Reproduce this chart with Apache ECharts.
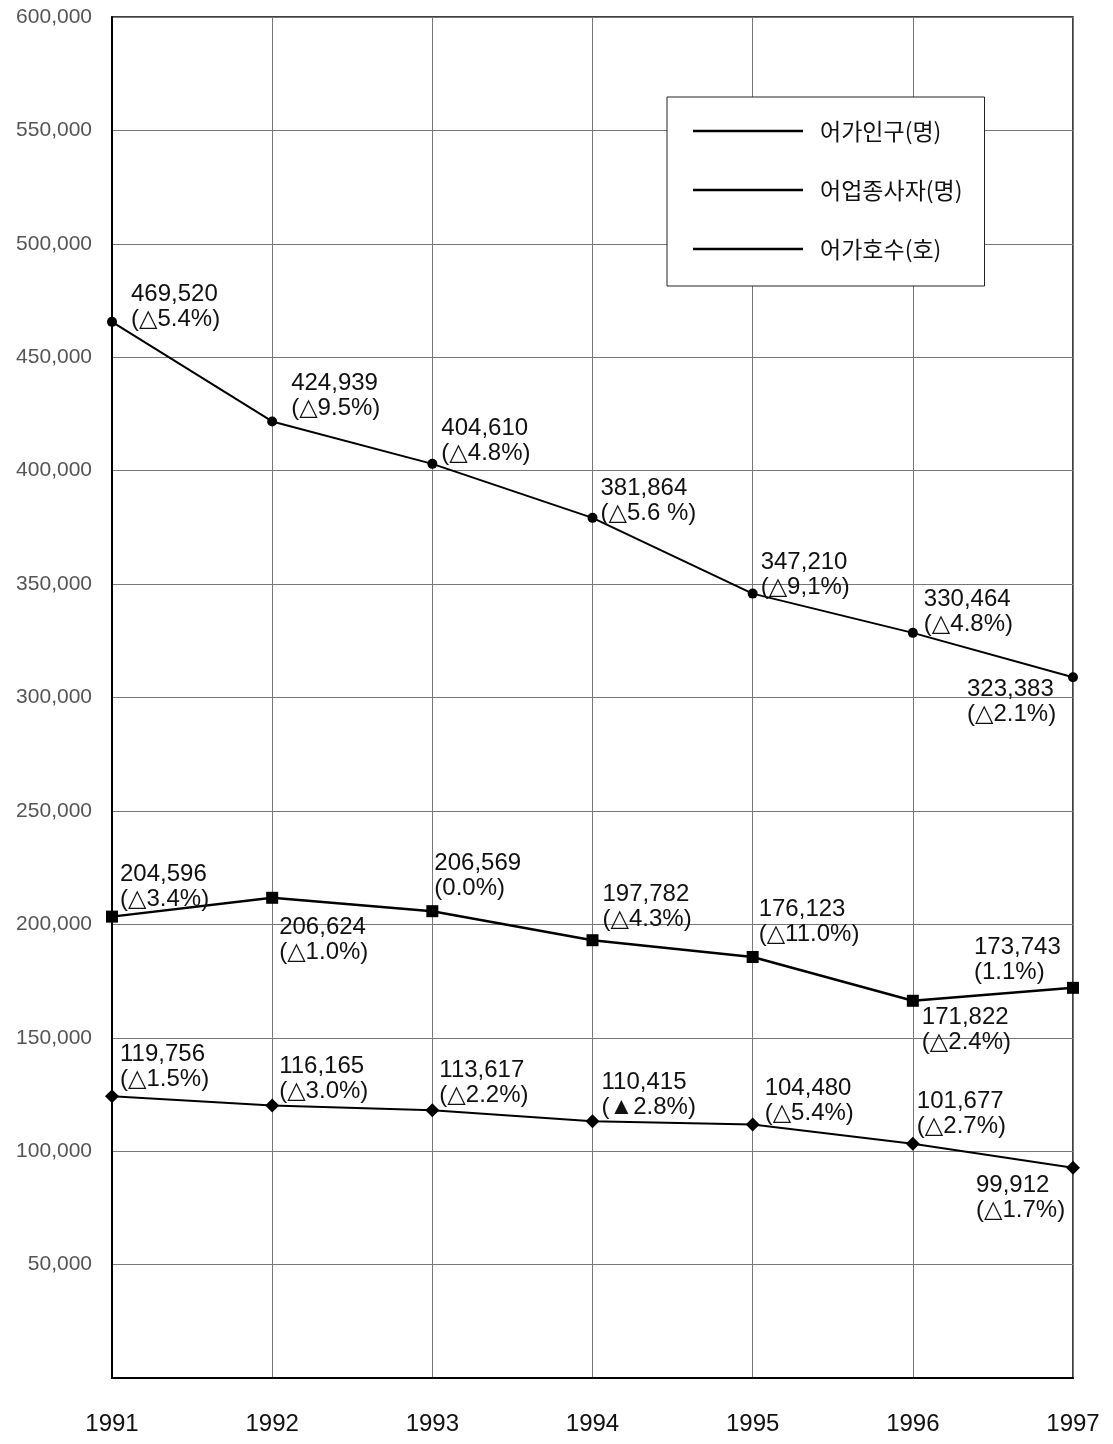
<!DOCTYPE html>
<html>
<head>
<meta charset="utf-8">
<script src="https://cdn.jsdelivr.net/npm/echarts@6/dist/echarts.min.js"></script>
<style>
  html, body { margin: 0; padding: 0; background: #fff; }
  #chart { width: 1113px; height: 1444px; }
</style>
</head>
<body>
<div id="chart"></div>
<script>
  // data
  const years = ['1991', '1992', '1993', '1994', '1995', '1996', '1997'];

  const population = [465600, 421700, 403000, 379200, 345800, 328500, 308900];
  const populationText = ['469,520', '424,939', '404,610', '381,864', '347,210', '330,464', '323,383'];
  const populationChange = ['(△5.4%)', '(△9.5%)', '(△4.8%)', '(△5.6 %)', '(△9,1%)', '(△4.8%)', '(△2.1%)'];

  const workers = [203400, 211700, 205800, 193000, 185600, 166300, 172000];
  const workersText = ['204,596', '206,624', '206,569', '197,782', '176,123', '171,822', '173,743'];
  const workersChange = ['(△3.4%)', '(△1.0%)', '(0.0%)', '(△4.3%)', '(△11.0%)', '(△2.4%)', '(1.1%)'];

  const households = [124200, 120100, 118000, 113200, 111800, 103300, 92700];
  const householdsText = ['119,756', '116,165', '113,617', '110,415', '104,480', '101,677', '99,912'];
  const householdsChange = ['(△1.5%)', '(△3.0%)', '(△2.2%)', '(▲2.8%)', '(△5.4%)', '(△2.7%)', '(△1.7%)'];

  const seriesNames = ['어가인구(명)', '어업종사자(명)', '어가호수(호)'];

  // label placement next to each point: [dx, dy] from the point to the text block's left-middle
  const popLayout = [[19, -15], [19, -26], [9, -23], [8, -17], [8, -19], [11, -21], [-106, 25]];
  const wrkLayout = [[8, -30], [7, 42], [2, -35], [10, -33], [6, -35], [9, 29], [-99, -28]];
  const hhLayout = [[8, -29], [7, -27], [7, -27], [9, -26], [12, -24], [4, -30], [-97, 30]];

  const labelFont = '"Liberation Sans", Arial, "DejaVu Sans", sans-serif';

  function points(values, texts, changes, layout) {
    return values.map((v, i) => ({
      value: v,
      label: {
        show: true,
        position: 'inside',
        align: 'left',
        verticalAlign: 'middle',
        offset: layout[i],
        formatter: texts[i] + '\n' + changes[i],
        fontFamily: labelFont,
        fontSize: 24,
        lineHeight: 25,
        color: '#111'
      }
    }));
  }

  const chart = echarts.init(document.getElementById('chart'));
  chart.setOption({
    backgroundColor: '#fff',
    animation: false,
    color: ['#000', '#000', '#000'],
    grid: {
      left: 112, right: 40, top: 17, bottom: 66,
      show: true, borderColor: '#000', borderWidth: 1.5
    },
    legend: {
      orient: 'vertical',
      left: 667, top: 97,
      data: seriesNames,
      icon: 'rect',
      itemWidth: 110, itemHeight: 2.5,
      itemGap: 35,
      backgroundColor: '#fff',
      borderColor: '#222', borderWidth: 1,
      padding: [22, 22, 25, 26],
      textStyle: {
        fontFamily: '"Noto Sans CJK KR", sans-serif',
        fontSize: 23, lineHeight: 24, color: '#111',
        padding: [0, 0, 0, 12]
      }
    },
    xAxis: {
      type: 'category',
      data: years,
      boundaryGap: false,
      axisLine: { lineStyle: { color: '#000', width: 2 } },
      axisTick: { show: false },
      axisLabel: { margin: 34, fontFamily: labelFont, fontSize: 24, color: '#111' },
      splitLine: { show: true, lineStyle: { color: '#777', width: 1 } }
    },
    yAxis: {
      type: 'value',
      min: 0, max: 600000, interval: 50000,
      axisLine: { show: true, lineStyle: { color: '#000', width: 2 } },
      axisTick: { show: false },
      axisLabel: {
        margin: 20, fontFamily: labelFont, fontSize: 21, color: '#555',
        formatter: v => v === 0 ? '' : v.toLocaleString('en-US')
      },
      splitLine: { lineStyle: { color: '#777', width: 1 } }
    },
    series: [
      {
        name: seriesNames[0], type: 'line',
        symbol: 'circle', symbolSize: 10,
        lineStyle: { color: '#000', width: 2 },
        itemStyle: { color: '#000' },
        data: points(population, populationText, populationChange, popLayout)
      },
      {
        name: seriesNames[1], type: 'line',
        symbol: 'rect', symbolSize: 12,
        lineStyle: { color: '#000', width: 2.5 },
        itemStyle: { color: '#000' },
        data: points(workers, workersText, workersChange, wrkLayout)
      },
      {
        name: seriesNames[2], type: 'line',
        symbol: 'diamond', symbolSize: 14,
        lineStyle: { color: '#000', width: 2 },
        itemStyle: { color: '#000' },
        data: points(households, householdsText, householdsChange, hhLayout)
      }
    ]
  });
</script>
</body>
</html>
